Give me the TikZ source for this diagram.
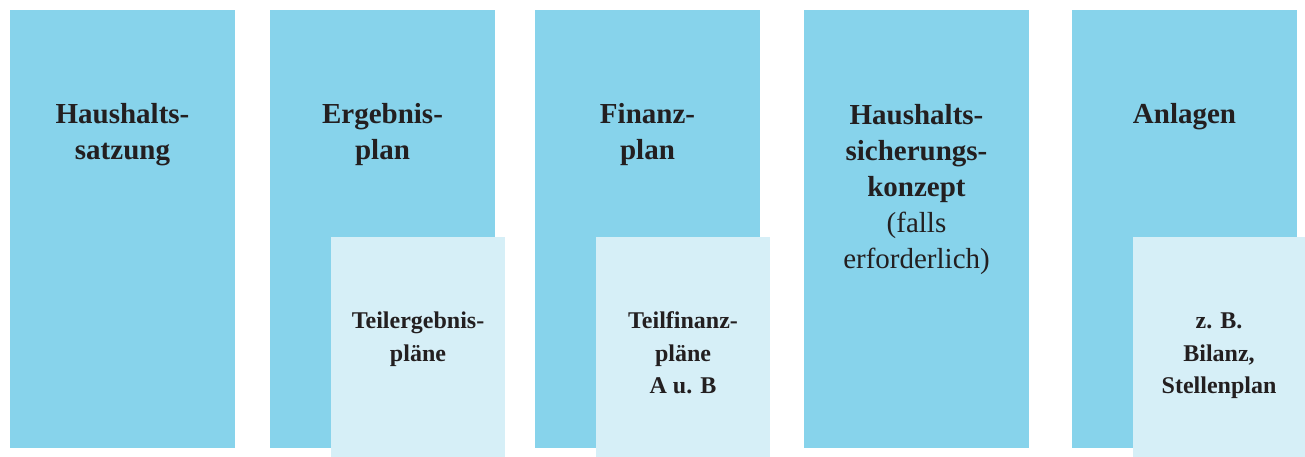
\documentclass[tikz,border=0pt]{standalone}
\usepackage{fontspec}
\setmainfont{Liberation Serif}
\usetikzlibrary{positioning}
\definecolor{colblue}{HTML}{87D3EB}
\definecolor{subblue}{HTML}{D6EFF7}
\definecolor{txtgray}{HTML}{231F20}
% anchor=base sits on the last line
\tikzset{
  mainlbl/.style={anchor=base, align=center, inner sep=0pt, text=txtgray,
    font=\fontsize{29}{36}\selectfont\bfseries},
  sublbl/.style={anchor=base, align=center, inner sep=0pt, text=txtgray,
    font=\fontsize{24}{32.5}\selectfont\bfseries}
}
\begin{document}
\begin{tikzpicture}[x=1pt,y=-1pt]
\useasboundingbox (0,0) rectangle (1305,457);

% columns
\fill[colblue] (10,10) rectangle (235,448);
\fill[colblue] (270,10) rectangle (495,448);
\fill[colblue] (535,10) rectangle (760,448);
\fill[colblue] (804,10) rectangle (1029,448);
\fill[colblue] (1072,10) rectangle (1297,448);

% sub boxes
\fill[subblue] (331,237) rectangle (505,457);
\fill[subblue] (596,237) rectangle (770,457);
\fill[subblue] (1133,237) rectangle (1305,457);

% main labels
\draw(122.5,160) node[mainlbl] (satzung) {Haushalts-\\satzung};
\draw(382.5,160) node[mainlbl] (ergebnis) {Ergebnis-\\plan};
\draw(647.5,160) node[mainlbl] (finanz) {Finanz-\\plan};
\draw(916.5,268) node[mainlbl] (konzept) {Haushalts-\\sicherungs-\\konzept\\{\mdseries(falls}\\{\mdseries erforderlich)}};
\draw(1184.5,124) node[mainlbl] (anlagen) {Anlagen};

% sub labels
\draw(418,361) node[sublbl] (teilerg) {Teilergebnis-\\pl\"ane};
\draw(683,393.5) node[sublbl] (teilfin) {Teilfinanz-\\pl\"ane\\A u. B};
\draw(1219,393.5) node[sublbl] (bsp) {z. B.\\Bilanz,\\Stellenplan};
\end{tikzpicture}
\end{document}
